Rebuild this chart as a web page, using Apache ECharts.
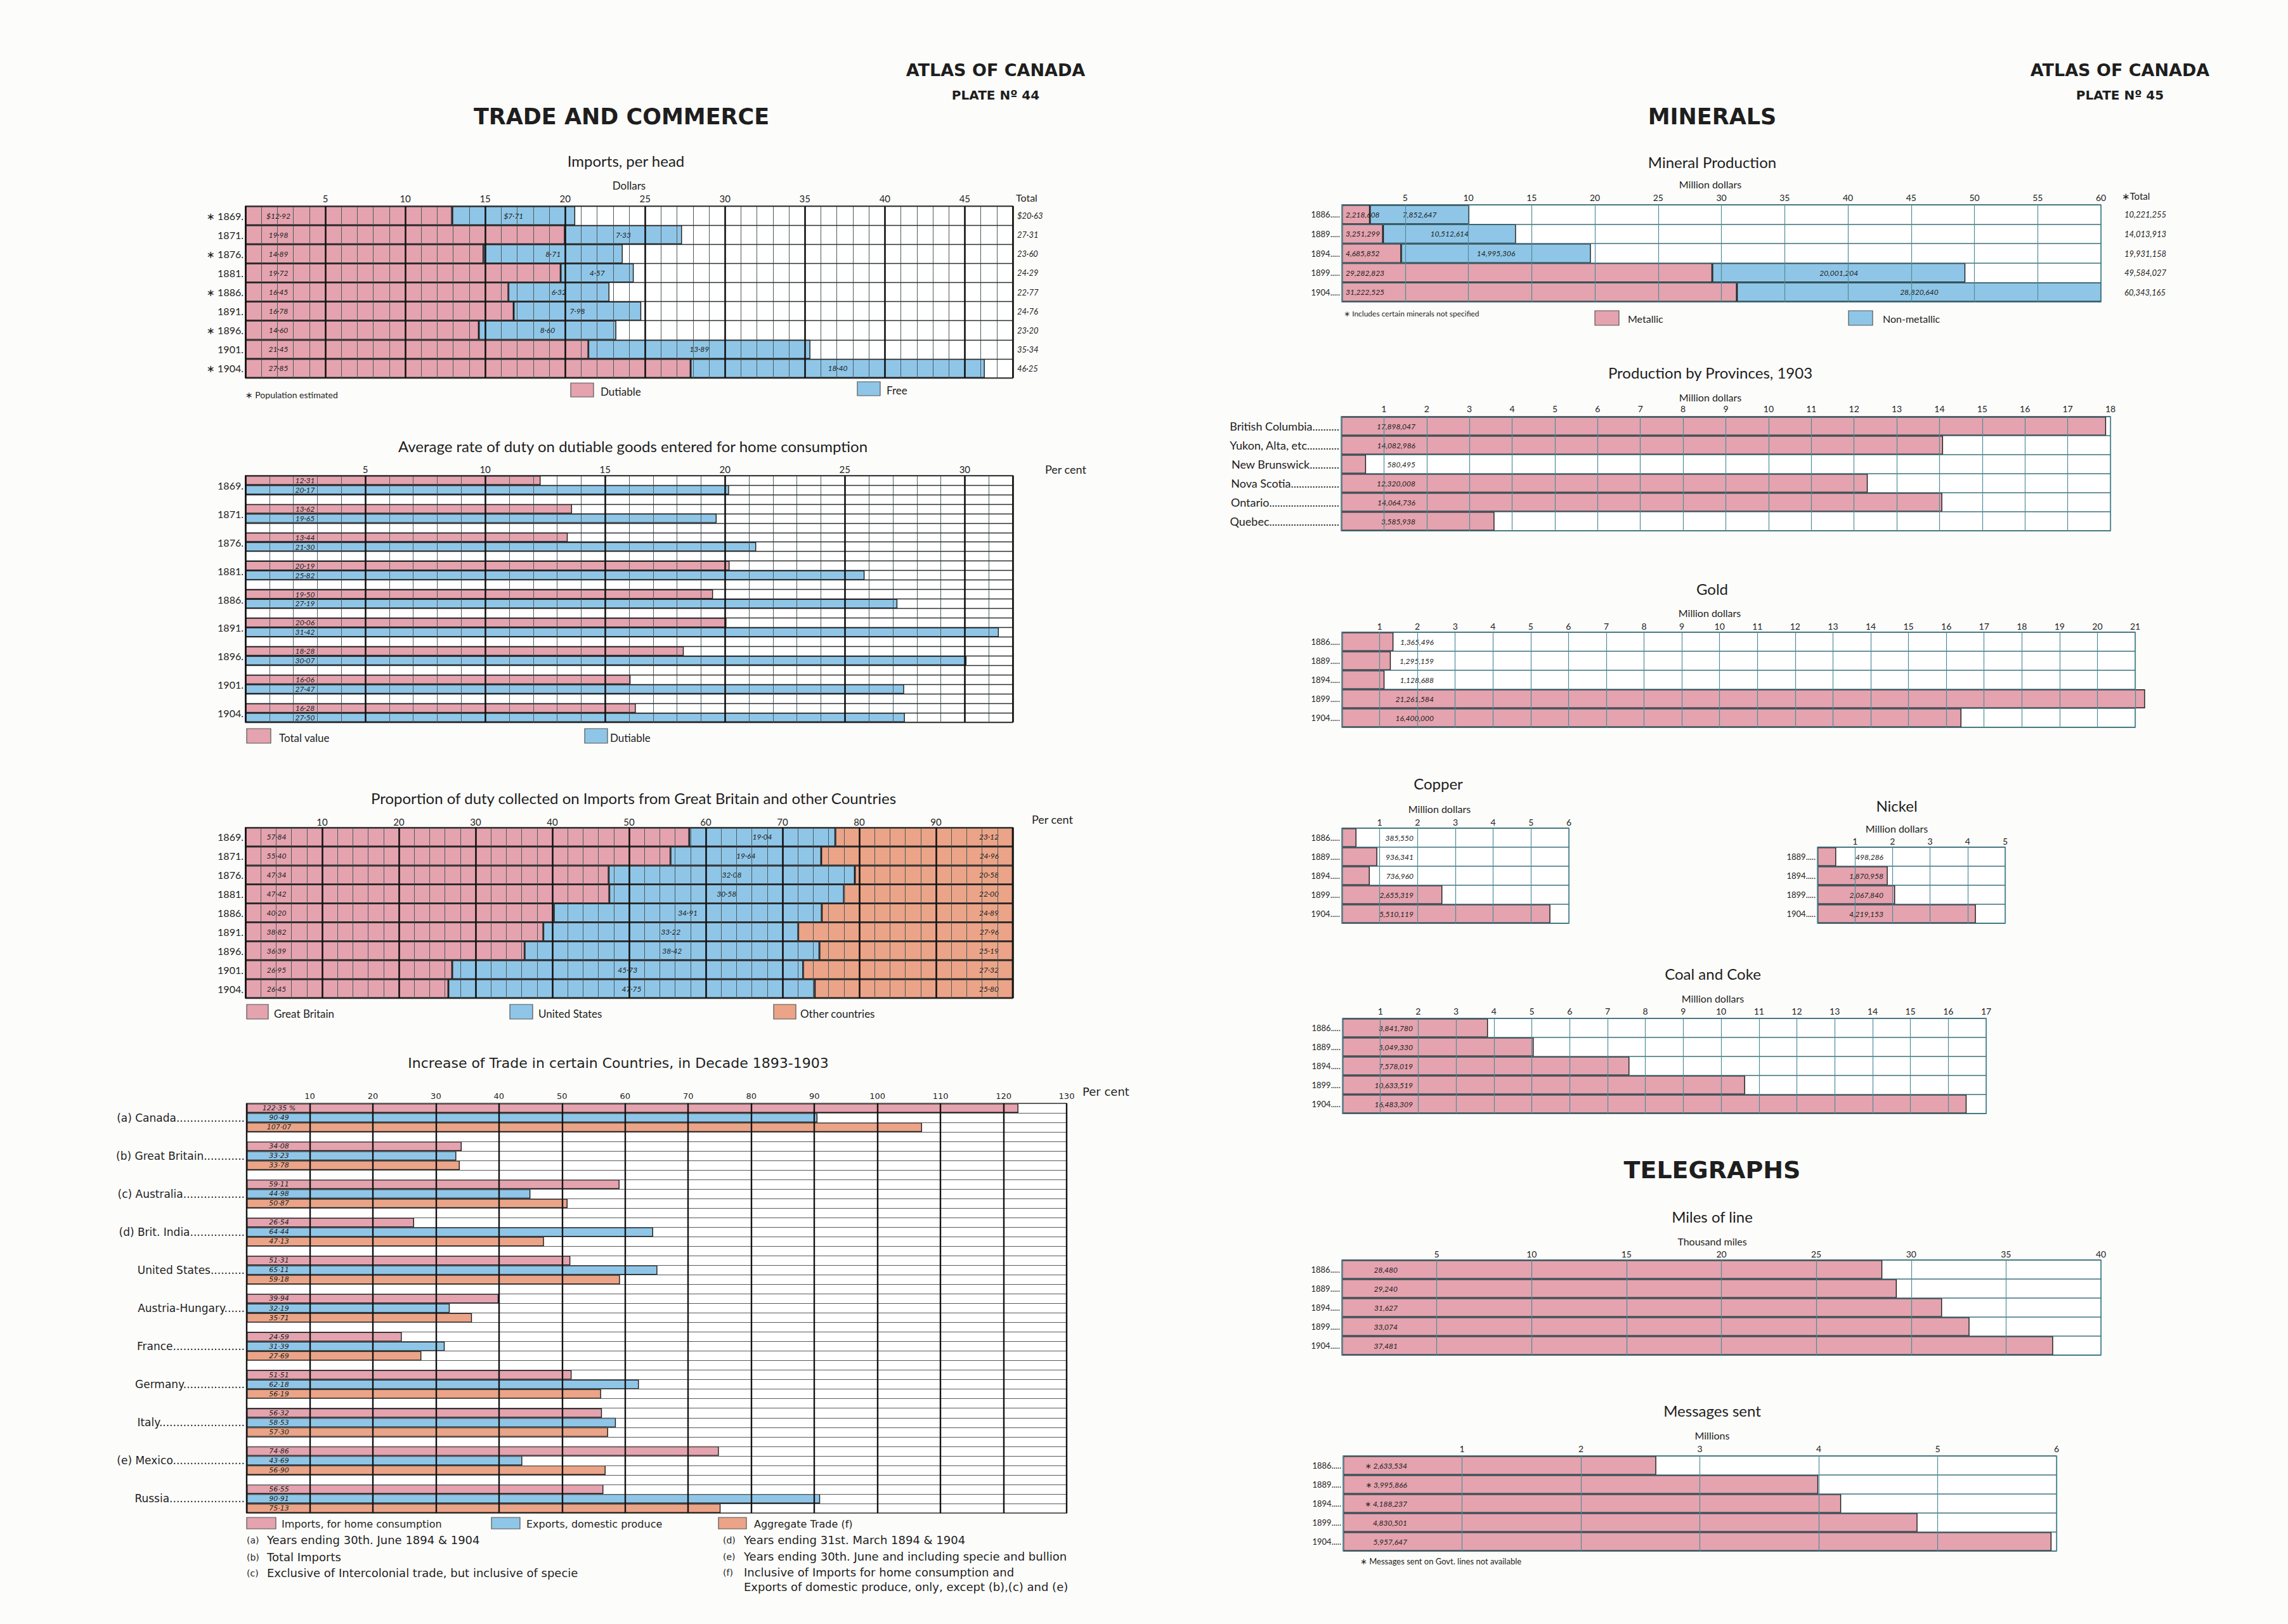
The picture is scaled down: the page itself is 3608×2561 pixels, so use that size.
<!DOCTYPE html>
<html><head><meta charset="utf-8">
<script src="https://cdn.jsdelivr.net/npm/echarts@6/dist/echarts.min.js"></script>
<style>html,body{margin:0;padding:0;background:#fcfcfa}#c{width:3608px;height:2561px}</style>
</head><body><div id="c"></div>
<script>
// ---------------- DATA ----------------
const importYears = ['1869','1871','1876','1881','1886','1891','1896','1901','1904'];
const importEstimated = [true,false,true,false,true,false,true,false,true];
const importDutiable = [12.92,19.98,14.89,19.72,16.45,16.78,14.60,21.45,27.85];
const importFree = [7.71,7.33,8.71,4.57,6.32,7.98,8.60,13.89,18.40];
const importTotal = [20.63,27.31,23.60,24.29,22.77,24.76,23.20,35.34,46.25];

const dutyYears = ['1869','1871','1876','1881','1886','1891','1896','1901','1904'];
const dutyTotalValue = [12.31,13.62,13.44,20.19,19.50,20.06,18.28,16.06,16.28];
const dutyDutiable = [20.17,19.65,21.30,25.82,27.19,31.42,30.07,27.47,27.50];

const propYears = ['1869','1871','1876','1881','1886','1891','1896','1901','1904'];
const propGreatBritain = [57.84,55.40,47.34,47.42,40.20,38.82,36.39,26.95,26.45];
const propUnitedStates = [19.04,19.64,32.08,30.58,34.91,33.22,38.42,45.73,47.75];
const propOther = [23.12,24.96,20.58,22.00,24.89,27.96,25.19,27.32,25.80];

const tradeNotes = ['(a)','(b)','(c)','(d)','','','','','','(e)',''];
const tradeCountries = ['Canada','Great Britain','Australia','Brit. India','United States','Austria-Hungary','France','Germany','Italy','Mexico','Russia'];
const tradeImports = [122.35,34.08,59.11,26.54,51.31,39.94,24.59,51.51,56.32,74.86,56.55];
const tradeExports = [90.49,33.23,44.98,64.44,65.11,32.19,31.39,62.18,58.53,43.69,90.91];
const tradeAggregate = [107.07,33.78,50.87,47.13,59.18,35.71,27.69,56.19,57.30,56.90,75.13];

const mineralYears = ['1886','1889','1894','1899','1904'];
const mineralMetallic = [2218608,3251299,4685852,29282823,31222525];
const mineralNonMetallic = [7852647,10512614,14995306,20001204,28820640];
const mineralTotal = [10221255,14013913,19931158,49584027,60343165];

const provinceNames = ['British Columbia','Yukon, Alta, etc.','New Brunswick','Nova Scotia','Ontario','Quebec'];
const provinceValues = [17898047,14082986,580495,12320008,14064736,3585938];

const goldYears = ['1886','1889','1894','1899','1904'];
const goldValues = [1365496,1295159,1128688,21261584,16400000];

const copperYears = ['1886','1889','1894','1899','1904'];
const copperValues = [385550,936341,736960,2655319,5510119];

const nickelYears = ['1889','1894','1899','1904'];
const nickelValues = [498286,1870958,2067840,4219153];

const coalYears = ['1886','1889','1894','1899','1904'];
const coalValues = [3841780,5049330,7578019,10633519,16483309];

const telegraphYears = ['1886','1889','1894','1899','1904'];
const telegraphMiles = [28480,29240,31627,33074,37481];
const messagesSent = [2633534,3995866,4188237,4830501,5957647];
const messagesGovtMissing = [true,true,true,false,false];

// ---------------- STYLE ----------------
const F = 'Lato, "Open Sans", "DejaVu Sans", sans-serif';
const FW = '"DejaVu Sans", Lato, sans-serif';
const PINK = '#e4a3ae', BLUE = '#8fc6e7', ORANGE = '#eba487';
const INK = '#1e1e1e';
const TEAL = '#4f8d99', TEAL_ROW = '#3b6f7b';
const fmt2 = v => v.toFixed(2).replace('.', '\u00b7');
const fmtInt = v => v.toLocaleString('en-US');

const mctx = document.createElement('canvas').getContext('2d');
function leader(text, target, font) {
  mctx.font = font;
  let s = text;
  while (mctx.measureText(s + '.').width <= target) s += '.';
  return s;
}
function buildRows(n, per) {
  const rows = [];
  for (let i = 0; i < n; i++) {
    for (let k = 0; k < per; k++) rows.push({g: i, k: k});
    if (i < n - 1) rows.push(null);
  }
  return rows;
}

const grids = [], xAxis = [], yAxis = [], series = [], graphic = [];

function addGrid(rect, o) {
  const gi = grids.length;
  grids.push({left: rect[0], top: rect[1], width: rect[2] - rect[0], height: rect[3] - rect[1],
    show: true, borderColor: o.frame, borderWidth: o.frameW || 1.5, backgroundColor: '#ffffff'});
  const xi = xAxis.length;
  xAxis.push({type: 'value', gridIndex: gi, position: 'top', min: 0, max: o.max, interval: o.step, z: 6,
    axisLine: {show: false}, axisTick: {show: false},
    axisLabel: {margin: o.labelMargin, fontFamily: o.tickFamily || F, fontSize: o.tickFont || 15, color: INK,
      formatter: v => (v === 0 || Math.abs(v % o.step) > 1e-9 || v === o.hideMax) ? '' : String(v)},
    splitLine: {show: true, lineStyle: {color: o.majorColor, width: o.majorW}}});
  if (o.thin) {
    xAxis.push({type: 'value', gridIndex: gi, position: 'bottom', min: 0, max: o.max, interval: o.thin, z: 5,
      axisLine: {show: false}, axisTick: {show: false}, axisLabel: {show: false},
      splitLine: {show: true, lineStyle: {color: o.thinColor, width: o.thinW}}});
  }
  const yi = yAxis.length;
  yAxis.push({type: 'category', gridIndex: gi, inverse: true, data: o.cats, z: 6,
    axisLine: {show: false}, axisTick: {show: false},
    axisLabel: Object.assign({interval: 0, margin: 3, fontFamily: F, fontSize: o.catFont || 15, color: INK}, o.catLabel || {}),
    splitLine: {show: true, interval: 0, lineStyle: {color: o.rowColor, width: o.rowW || 1.3}}});
  if (o.right) {
    yAxis.push({type: 'category', gridIndex: gi, position: 'right', inverse: true, data: o.right,
      axisLine: {show: false}, axisTick: {show: false}, splitLine: {show: false},
      axisLabel: {interval: 0, margin: o.rightMargin || 8, align: 'left', fontFamily: F, fontStyle: 'italic', fontSize: 13, color: INK}});
  }
  return {gi, xi, yi};
}

function bar(ax, data, color, label, extra) {
  series.push(Object.assign({type: 'bar', xAxisIndex: ax.xi, yAxisIndex: ax.yi, data: data, clip: false,
    barCategoryGap: '0%', barGap: '-100%', animation: false, silent: true,
    itemStyle: {color: color, borderColor: '#1b1b1b', borderWidth: 1.4},
    label: Object.assign({show: true, fontFamily: F, fontStyle: 'italic', fontSize: 12, color: INK, verticalAlign: 'middle'}, label)}, extra || {}));
}

function txt(x, y, text, o) {
  graphic.push({type: 'text', x: x, y: y, silent: true,
    style: Object.assign({text: text, fill: INK, fontFamily: F, fontSize: 20, fontWeight: 'normal',
      textAlign: 'center', textVerticalAlign: 'middle', align: 'center', verticalAlign: 'middle'}, o || {})});
}
function swatch(x, y, w, h, fill) {
  graphic.push({type: 'rect', silent: true, shape: {x: x, y: y, width: w, height: h},
    style: {fill: fill, stroke: '#555', lineWidth: 1.2}});
}
const L = {textAlign: 'left', align: 'left'};

// ---------------- LEFT PAGE ----------------
const yearFont16 = '16px ' + F;
const leftAxisOpts = {majorColor: '#141414', majorW: 2.6, thinColor: '#4d5a60', thinW: 1, rowColor: '#2e2e2e', rowW: 1.4, frame: '#222'};

// Imports per head
const p1 = addGrid([387, 325, 1597, 596], Object.assign({max: 48, step: 5, thin: 1, labelMargin: 5,
  cats: importYears.map((y, i) => (importEstimated[i] ? '\u2217 ' : '') + leader(y, 44, yearFont16)), catFont: 16,
  right: importTotal.map((t, i) => (i === 0 ? '$' : '') + fmt2(t)), rightMargin: 7}, leftAxisOpts));
bar(p1, importDutiable, PINK, {position: [52, '50%'], align: 'center', formatter: p => (p.dataIndex === 0 ? '$' : '') + fmt2(p.value)}, {stack: 'imp'});
bar(p1, importFree, BLUE, {position: 'inside', formatter: p => (p.dataIndex === 0 ? '$' : '') + fmt2(p.value)}, {stack: 'imp'});

// Average rate of duty
const dutyRows = buildRows(dutyYears.length, 2);
const p2 = addGrid([387, 750, 1597, 1139], Object.assign({max: 32, step: 5, thin: 1, labelMargin: 3,
  cats: dutyRows.map((r, i) => 'r' + i), catFont: 16,
  catLabel: {verticalAlign: 'top', formatter: (v, i) => (dutyRows[i] && dutyRows[i].k === 0) ? leader(dutyYears[dutyRows[i].g], 44, yearFont16) : ''}},
  leftAxisOpts));
bar(p2, dutyRows.map(r => (r && r.k === 0) ? dutyTotalValue[r.g] : '-'), PINK, {position: [94, '50%'], align: 'center', formatter: p => fmt2(p.value)});
bar(p2, dutyRows.map(r => (r && r.k === 1) ? dutyDutiable[r.g] : '-'), BLUE, {position: [94, '50%'], align: 'center', formatter: p => fmt2(p.value)});

// Proportion of duty
const p3 = addGrid([387, 1305, 1597, 1574], Object.assign({max: 100, step: 10, thin: 2, hideMax: 100, labelMargin: 2,
  cats: propYears.map(y => leader(y, 44, yearFont16)), catFont: 16}, leftAxisOpts));
bar(p3, propGreatBritain, PINK, {position: [49, '50%'], align: 'center', formatter: p => fmt2(p.value)}, {stack: 'prop'});
bar(p3, propUnitedStates, BLUE, {position: 'inside', formatter: p => fmt2(p.value)}, {stack: 'prop'});
bar(p3, propOther, ORANGE, {position: 'insideRight', distance: 22, formatter: p => fmt2(p.value)}, {stack: 'prop'});

// Increase of trade
const tradeRows = buildRows(tradeCountries.length, 3);
const countryFont = '17px ' + FW;
const p4 = addGrid([389, 1740, 1682, 2386], {max: 130, step: 10, labelMargin: 5, tickFamily: FW, tickFont: 13,
  majorColor: '#141414', majorW: 2.4, rowColor: '#5a5a5a', rowW: 1, frame: '#333',
  cats: tradeRows.map((r, i) => 'r' + i),
  catLabel: {fontFamily: FW, fontSize: 17, formatter: (v, i) => {
    const r = tradeRows[i];
    if (!r || r.k !== 1) return '';
    return (tradeNotes[r.g] ? tradeNotes[r.g] + ' ' : '') + leader(tradeCountries[r.g], 174, countryFont);
  }}});
const tradeLbl = {position: [51, '50%'], align: 'center', fontFamily: FW, fontSize: 11};
bar(p4, tradeRows.map(r => (r && r.k === 0) ? tradeImports[r.g] : '-'), PINK, Object.assign({formatter: p => fmt2(p.value) + (tradeRows[p.dataIndex].g === 0 ? ' %' : '')}, tradeLbl));
bar(p4, tradeRows.map(r => (r && r.k === 1) ? tradeExports[r.g] : '-'), BLUE, Object.assign({formatter: p => fmt2(p.value)}, tradeLbl));
bar(p4, tradeRows.map(r => (r && r.k === 2) ? tradeAggregate[r.g] : '-'), ORANGE, Object.assign({formatter: p => fmt2(p.value)}, tradeLbl));

// ---------------- RIGHT PAGE ----------------
const yearFont13 = '13px ' + F;
const rightAxisOpts = {majorColor: TEAL, majorW: 1.2, rowColor: TEAL_ROW, rowW: 1.5, frame: TEAL_ROW, tickFont: 14, catFont: 13};

const p5 = addGrid([2116, 323, 3313, 476], Object.assign({max: 60, step: 5, labelMargin: 5,
  cats: mineralYears.map(y => leader(y, 46, yearFont13)), right: mineralTotal.map(fmtInt), rightMargin: 37}, rightAxisOpts));
bar(p5, mineralMetallic.map(v => v / 1e6), PINK, {position: 'insideLeft', distance: 6, formatter: p => fmtInt(mineralMetallic[p.dataIndex])}, {stack: 'min'});
bar(p5, mineralNonMetallic.map(v => v / 1e6), BLUE, {position: 'inside', formatter: p => fmtInt(mineralNonMetallic[p.dataIndex])}, {stack: 'min'});

function simple(rect, o, cats, values, scale, labelText, labelRight) {
  const ax = addGrid(rect, Object.assign({cats: cats}, rightAxisOpts, o));
  bar(ax, values.map(v => v / scale), PINK, {position: [labelRight, '50%'], align: 'right', formatter: p => labelText(p.dataIndex)});
}
simple([2115, 657, 3328, 837], {max: 18, step: 1, labelMargin: 6, catFont: 18},
  provinceNames.map(n => leader(n, 174, '18px ' + F)), provinceValues, 1e6, i => fmtInt(provinceValues[i]), 117);
simple([2116, 997, 3367, 1147], {max: 21, step: 1, labelMargin: 3},
  goldYears.map(y => leader(y, 46, yearFont13)), goldValues, 1e6, i => fmtInt(goldValues[i]), 145);
simple([2116, 1306, 2474, 1456], {max: 6, step: 1, labelMargin: 3},
  copperYears.map(y => leader(y, 46, yearFont13)), copperValues, 1e6, i => fmtInt(copperValues[i]), 113);
simple([2866, 1336, 3162, 1456], {max: 5, step: 1, labelMargin: 3},
  nickelYears.map(y => leader(y, 46, yearFont13)), nickelValues, 1e6, i => fmtInt(nickelValues[i]), 104);
simple([2117, 1606, 3132, 1756], {max: 17, step: 1, labelMargin: 5},
  coalYears.map(y => leader(y, 46, yearFont13)), coalValues, 1e6, i => fmtInt(coalValues[i]), 111);
simple([2116, 1987, 3313, 2137], {max: 40, step: 5, labelMargin: 3},
  telegraphYears.map(y => leader(y, 46, yearFont13)), telegraphMiles, 1000, i => fmtInt(telegraphMiles[i]), 88);
simple([2118, 2296, 3243, 2446], {max: 6, step: 1, labelMargin: 5},
  telegraphYears.map(y => leader(y, 46, yearFont13)), messagesSent, 1e6, i => (messagesGovtMissing[i] ? '\u2217 ' : '') + fmtInt(messagesSent[i]), 101);

// ---------------- TEXTS ----------------
const HB = {fontFamily: FW, fontWeight: 'bold'};
txt(1570, 110, 'ATLAS OF CANADA', Object.assign({fontSize: 27}, HB));
txt(1570, 150, 'PLATE N\u00ba 44', Object.assign({fontSize: 20}, HB));
txt(980, 184, 'TRADE AND COMMERCE', Object.assign({fontSize: 35}, HB));
txt(3343, 110, 'ATLAS OF CANADA', Object.assign({fontSize: 27}, HB));
txt(3343, 150, 'PLATE N\u00ba 45', Object.assign({fontSize: 20}, HB));
txt(2700, 184, 'MINERALS', Object.assign({fontSize: 35}, HB));
txt(2700, 1845, 'TELEGRAPHS', Object.assign({fontSize: 38}, HB));

// panel 1
txt(987, 253, 'Imports, per head', {fontSize: 24});
txt(992, 292, 'Dollars', {fontSize: 17});
txt(1602, 311, 'Total', Object.assign({fontSize: 16}, L));
swatch(900, 604, 36, 22, PINK); txt(947, 617, 'Dutiable', Object.assign({fontSize: 17}, L));
swatch(1352, 602, 36, 22, BLUE); txt(1398, 615, 'Free', Object.assign({fontSize: 17}, L));
txt(387, 622, '\u2217 Population estimated', Object.assign({fontSize: 14}, L));
// panel 2
txt(998, 703, 'Average rate of duty on dutiable goods entered for home consumption', {fontSize: 24});
txt(1648, 740, 'Per cent', Object.assign({fontSize: 18}, L));
swatch(389, 1149, 38, 23, PINK); txt(440, 1163, 'Total value', Object.assign({fontSize: 17}, L));
swatch(922, 1149, 36, 23, BLUE); txt(962, 1163, 'Dutiable', Object.assign({fontSize: 17}, L));
// panel 3
txt(999, 1258, 'Proportion of duty collected on Imports from Great Britain and other Countries', {fontSize: 24});
txt(1627, 1292, 'Per cent', Object.assign({fontSize: 18}, L));
swatch(389, 1584, 34, 23, PINK); txt(432, 1598, 'Great Britain', Object.assign({fontSize: 17}, L));
swatch(804, 1584, 36, 23, BLUE); txt(849, 1598, 'United States', Object.assign({fontSize: 17}, L));
swatch(1220, 1584, 35, 23, ORANGE); txt(1262, 1598, 'Other countries', Object.assign({fontSize: 17}, L));
// panel 4
txt(975, 1676, 'Increase of Trade in certain Countries, in Decade 1893-1903', {fontSize: 22, fontFamily: FW});
txt(1707, 1721, 'Per cent', Object.assign({fontSize: 18, fontFamily: FW}, L));
const NF = Object.assign({fontFamily: FW, fontSize: 16}, L);
swatch(389, 2393, 46, 18, PINK); txt(444, 2403, 'Imports, for home consumption', NF);
swatch(775, 2393, 45, 18, BLUE); txt(830, 2403, 'Exports, domestic produce', NF);
swatch(1133, 2393, 44, 18, ORANGE); txt(1189, 2403, 'Aggregate Trade (f)', NF);
const NT = Object.assign({fontFamily: FW, fontSize: 18}, L);
const NS = Object.assign({fontFamily: FW, fontSize: 14}, L);
txt(389, 2429, '(a)', NS); txt(421, 2428, 'Years ending 30th. June 1894 & 1904', NT);
txt(389, 2456, '(b)', NS); txt(421, 2455, 'Total Imports', NT);
txt(389, 2481, '(c)', NS); txt(421, 2480, 'Exclusive of Intercolonial trade, but inclusive of specie', NT);
txt(1140, 2429, '(d)', NS); txt(1173, 2428, 'Years ending 31st. March 1894 & 1904', NT);
txt(1140, 2455, '(e)', NS); txt(1173, 2454, 'Years ending 30th. June and including specie and bullion', NT);
txt(1140, 2480, '(f)', NS); txt(1173, 2479, 'Inclusive of Imports for home consumption and', NT);
txt(1173, 2502, 'Exports of domestic produce, only, except (b),(c) and (e)', NT);

// right page titles
txt(2700, 255, 'Mineral Production', {fontSize: 24});
txt(2697, 290, 'Million dollars', {fontSize: 16});
txt(3346, 309, '\u2217Total', Object.assign({fontSize: 15}, L));
txt(2119, 494, '\u2217 Includes certain minerals not specified', Object.assign({fontSize: 12}, L));
swatch(2515, 490, 38, 23, PINK); txt(2567, 502, 'Metallic', Object.assign({fontSize: 16}, L));
swatch(2915, 490, 38, 23, BLUE); txt(2969, 502, 'Non-metallic', Object.assign({fontSize: 16}, L));
txt(2697, 587, 'Production by Provinces, 1903', {fontSize: 24});
txt(2697, 626, 'Million dollars', {fontSize: 16});
txt(2700, 928, 'Gold', {fontSize: 24});
txt(2696, 966, 'Million dollars', {fontSize: 16});
txt(2268, 1235, 'Copper', {fontSize: 24});
txt(2270, 1275, 'Million dollars', {fontSize: 16});
txt(2991, 1270, 'Nickel', {fontSize: 24});
txt(2991, 1306, 'Million dollars', {fontSize: 16});
txt(2701, 1535, 'Coal and Coke', {fontSize: 24});
txt(2701, 1574, 'Million dollars', {fontSize: 16});
txt(2700, 1918, 'Miles of line', {fontSize: 24});
txt(2700, 1957, 'Thousand miles', {fontSize: 16});
txt(2700, 2224, 'Messages sent', {fontSize: 24});
txt(2700, 2263, 'Millions', {fontSize: 16});
txt(2145, 2462, '\u2217 Messages sent on Govt. lines not available', Object.assign({fontSize: 13}, L));

const chart = echarts.init(document.getElementById('c'), null, {renderer: 'svg', width: 3608, height: 2561});
chart.setOption({
  backgroundColor: '#fcfcfa',
  animation: false,
  grid: grids, xAxis: xAxis, yAxis: yAxis, series: series, graphic: graphic
});
</script>
</body></html>
